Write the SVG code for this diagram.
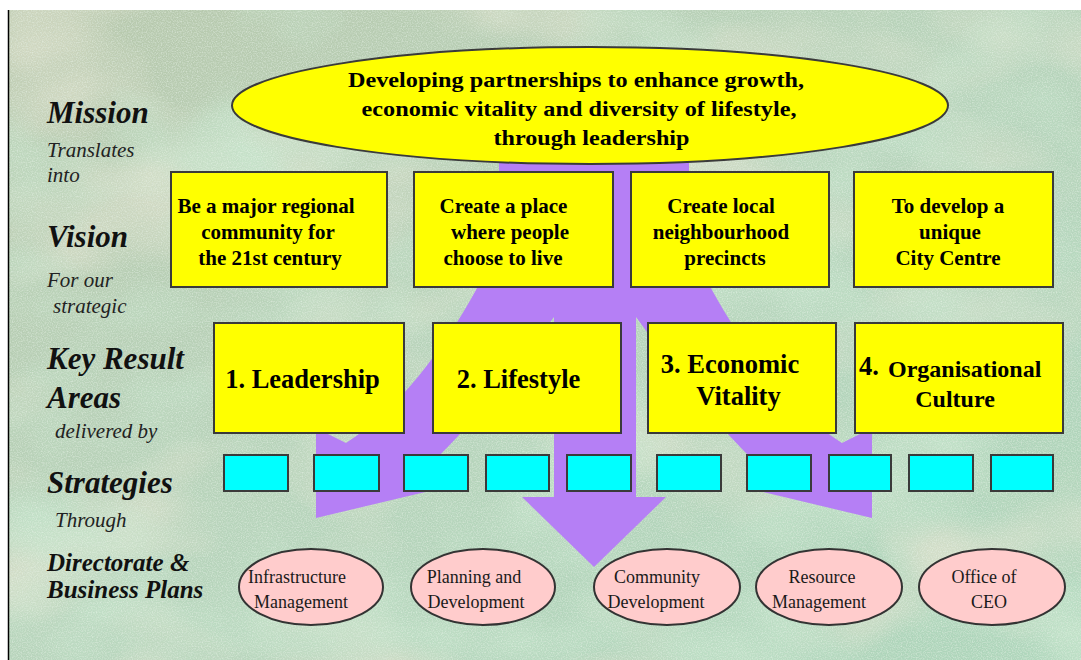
<svg xmlns="http://www.w3.org/2000/svg" width="1081" height="660" viewBox="0 0 1081 660">
<defs>
<filter id="blotchTan" x="0" y="0" width="100%" height="100%">
<feTurbulence type="fractalNoise" baseFrequency="0.005 0.008" numOctaves="3" seed="11"/>
<feColorMatrix type="matrix" values="0 0 0 0 0.76  0 0 0 0 0.76  0 0 0 0 0.62  2.0 0 0 0 -0.95"/>
</filter>
<filter id="blotchGreen" x="0" y="0" width="100%" height="100%">
<feTurbulence type="fractalNoise" baseFrequency="0.006 0.009" numOctaves="3" seed="27"/>
<feColorMatrix type="matrix" values="0 0 0 0 0.56  0 0 0 0 0.78  0 0 0 0 0.60  0 2.2 0 0 -1.0"/>
</filter>
<filter id="grainLight" x="0" y="0" width="100%" height="100%">
<feTurbulence type="fractalNoise" baseFrequency="0.8" numOctaves="1" seed="7"/>
<feColorMatrix type="matrix" values="0 0 0 0 0.86  0 0 0 0 0.94  0 0 0 0 0.86  1.3 0 0 0 -0.55"/>
</filter>
<filter id="grainDark" x="0" y="0" width="100%" height="100%">
<feTurbulence type="fractalNoise" baseFrequency="0.8" numOctaves="1" seed="19"/>
<feColorMatrix type="matrix" values="0 0 0 0 0.55  0 0 0 0 0.66  0 0 0 0 0.56  1.2 0 0 0 -0.58"/>
</filter>
<linearGradient id="bgGrad" x1="0" y1="0" x2="1" y2="1">
<stop offset="0" stop-color="#b7c7ab"/>
<stop offset="0.5" stop-color="#b7d4bb"/>
<stop offset="1" stop-color="#acd5ba"/>
</linearGradient>
<style>
.box{fill:#ffff00;stroke:#3a3a3a;stroke-width:2}
.strat{fill:#00ffff;stroke:#3a3a3a;stroke-width:2}
.dir{fill:#ffcccc;stroke:#333;stroke-width:2}
.vt{font-family:"Liberation Serif","Times New Roman",serif;font-weight:bold;font-size:21px;fill:#000;text-anchor:middle}
.mt{font-family:"Liberation Serif","Times New Roman",serif;font-weight:bold;font-size:22px;fill:#000;text-anchor:middle}
.kt{font-family:"Liberation Serif","Times New Roman",serif;font-weight:bold;font-size:26.5px;fill:#000;text-anchor:middle}
.dt{font-family:"Liberation Serif","Times New Roman",serif;font-size:18px;fill:#1a1a1a;text-anchor:middle}
.lh{font-family:"Liberation Serif","Times New Roman",serif;font-weight:bold;font-style:italic;font-size:31px;fill:#111}
.lh2{font-family:"Liberation Serif","Times New Roman",serif;font-weight:bold;font-style:italic;font-size:25px;fill:#111}
.ls{font-family:"Liberation Serif","Times New Roman",serif;font-style:italic;font-size:21px;fill:#222}
</style>
</defs>

<g id="background">
<rect x="0" y="0" width="1081" height="660" fill="#ffffff"/>
<rect x="9" y="10" width="1072" height="650" fill="url(#bgGrad)"/>
<rect x="9" y="10" width="1072" height="650" filter="url(#blotchTan)"/>
<rect x="9" y="10" width="1072" height="650" filter="url(#blotchGreen)"/>
<rect x="9" y="10" width="1072" height="650" filter="url(#grainLight)"/>
<rect x="9" y="10" width="1072" height="650" filter="url(#grainDark)"/>
<line x1="8.5" y1="10" x2="8.5" y2="660" stroke="#000" stroke-width="1.5"/>
</g>

<g id="connectors">
<path fill="#b57ff5" d="M 499,140 L 689,140 L 689,170 C 692,230 700,265 712,290 C 745,350 790,410 842,443 L 872,428 L 872,518 L 750,489 L 772,476 C 735,448 688,388 636,317 L 636,497 L 666,497 L 594,567 L 522,497 L 554,497 L 554,317 C 500,388 453,448 416,476 L 438,489 L 316,518 L 316,428 L 346,443 C 398,410 443,350 476,290 C 488,265 496,230 499,170 Z"/>
</g>

<g id="mission">
<ellipse cx="590" cy="105.5" rx="358" ry="58.5" class="box"/>
<text class="mt" x="576" y="87" textLength="456" lengthAdjust="spacingAndGlyphs">Developing partnerships to enhance growth,</text>
<text class="mt" x="579" y="116" textLength="435" lengthAdjust="spacingAndGlyphs">economic vitality and diversity of lifestyle,</text>
<text class="mt" x="591.5" y="145" textLength="196" lengthAdjust="spacingAndGlyphs">through leadership</text>
</g>

<g id="vision1">
<rect x="171" y="172" width="216" height="115" class="box"/>
<text class="vt" x="266" y="213">Be a major regional</text>
<text class="vt" x="268" y="239">community for</text>
<text class="vt" x="270" y="265">the 21st century</text>
</g>
<g id="vision2">
<rect x="414" y="172" width="199" height="115" class="box"/>
<text class="vt" x="503.5" y="213">Create a place</text>
<text class="vt" x="510" y="239">where people</text>
<text class="vt" x="503" y="265">choose to live</text>
</g>
<g id="vision3">
<rect x="631" y="172" width="198" height="115" class="box"/>
<text class="vt" x="721" y="213">Create local</text>
<text class="vt" x="721" y="239">neighbourhood</text>
<text class="vt" x="725" y="265">precincts</text>
</g>
<g id="vision4">
<rect x="854" y="172" width="199" height="115" class="box"/>
<text class="vt" x="948" y="213">To develop a</text>
<text class="vt" x="950" y="239">unique</text>
<text class="vt" x="948" y="265">City Centre</text>
</g>

<g id="kra1">
<rect x="214" y="323" width="190" height="110" class="box"/>
<text class="kt" x="302.5" y="388">1. Leadership</text>
</g>
<g id="kra2">
<rect x="433" y="323" width="188" height="110" class="box"/>
<text class="kt" x="518.5" y="388">2. Lifestyle</text>
</g>
<g id="kra3">
<rect x="648" y="323" width="188" height="110" class="box"/>
<text class="kt" x="730" y="373">3. Economic</text>
<text class="kt" x="738.5" y="405">Vitality</text>
</g>
<g id="kra4">
<rect x="855" y="323" width="208" height="110" class="box"/>
<text class="kt" x="859" y="375" style="text-anchor:start">4.</text>
<text class="kt" x="888" y="377" style="text-anchor:start;font-size:24px">Organisational</text>
<text class="kt" x="955" y="407" style="font-size:24px">Culture</text>
</g>

<g id="strategy1"><rect x="224" y="455" width="64" height="36" class="strat"/></g>
<g id="strategy2"><rect x="314" y="455" width="65" height="36" class="strat"/></g>
<g id="strategy3"><rect x="404" y="455" width="64" height="36" class="strat"/></g>
<g id="strategy4"><rect x="486" y="455" width="63" height="36" class="strat"/></g>
<g id="strategy5"><rect x="567" y="455" width="64" height="36" class="strat"/></g>
<g id="strategy6"><rect x="657" y="455" width="64" height="36" class="strat"/></g>
<g id="strategy7"><rect x="747" y="455" width="64" height="36" class="strat"/></g>
<g id="strategy8"><rect x="829" y="455" width="62" height="36" class="strat"/></g>
<g id="strategy9"><rect x="909" y="455" width="64" height="36" class="strat"/></g>
<g id="strategy10"><rect x="991" y="455" width="62" height="36" class="strat"/></g>

<g id="dir1">
<ellipse cx="311" cy="587" rx="72" ry="38" class="dir"/>
<text class="dt" x="297" y="583">Infrastructure</text>
<text class="dt" x="301" y="608">Management</text>
</g>
<g id="dir2">
<ellipse cx="483" cy="587" rx="72" ry="38" class="dir"/>
<text class="dt" x="474" y="583">Planning and</text>
<text class="dt" x="476" y="608">Development</text>
</g>
<g id="dir3">
<ellipse cx="667" cy="587" rx="73" ry="38" class="dir"/>
<text class="dt" x="657" y="583">Community</text>
<text class="dt" x="656" y="608">Development</text>
</g>
<g id="dir4">
<ellipse cx="829" cy="587" rx="73" ry="38" class="dir"/>
<text class="dt" x="822" y="583">Resource</text>
<text class="dt" x="819" y="608">Management</text>
</g>
<g id="dir5">
<ellipse cx="992" cy="587" rx="73" ry="38" class="dir"/>
<text class="dt" x="984" y="583">Office of</text>
<text class="dt" x="989" y="608">CEO</text>
</g>

<g id="labels">
<text class="lh" x="47" y="123">Mission</text>
<text class="ls" x="47" y="157">Translates</text>
<text class="ls" x="47" y="182">into</text>
<text class="lh" x="47" y="247">Vision</text>
<text class="ls" x="47" y="287">For our</text>
<text class="ls" x="53" y="313">strategic</text>
<text class="lh" x="47" y="369">Key Result</text>
<text class="lh" x="47" y="408">Areas</text>
<text class="ls" x="55" y="438">delivered by</text>
<text class="lh" x="47" y="493">Strategies</text>
<text class="ls" x="55" y="527">Through</text>
<text class="lh2" x="47" y="571">Directorate &amp;</text>
<text class="lh2" x="47" y="598">Business Plans</text>
</g>
</svg>
